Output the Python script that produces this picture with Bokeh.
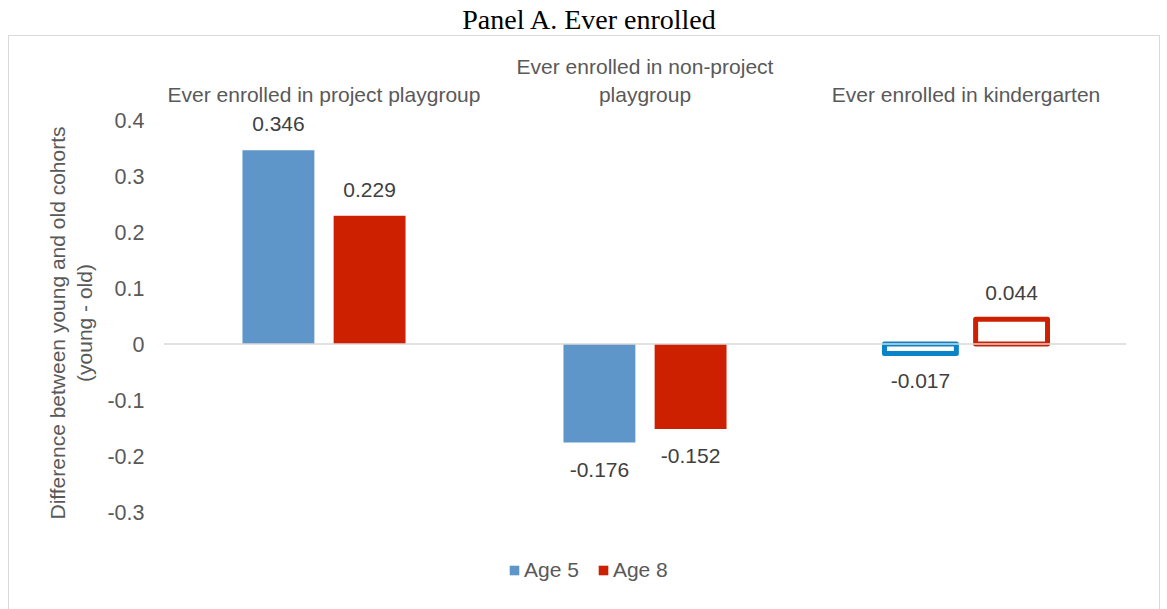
from bokeh.plotting import figure
from bokeh.models import (ColumnDataSource, FactorRange, Range1d, FixedTicker, Span,
                          Legend, LegendItem, Div)
from bokeh.transform import dodge
from bokeh.layouts import column
from bokeh.core.properties import value
from bokeh.embed import file_html
from bokeh.resources import INLINE

# ---- data ----
categories = ["Ever enrolled in project playgroup",
              "Ever enrolled in non-project\nplaygroup",
              "Ever enrolled in kindergarten"]
age5 = [0.346, -0.176, -0.017]
age8 = [0.229, -0.152, 0.044]
series_names = ["Age 5", "Age 8"]
tick_values = [-0.3, -0.2, -0.1, 0.0, 0.1, 0.2, 0.3, 0.4]
tick_labels = ["-0.3", "-0.2", "-0.1", "0", "0.1", "0.2", "0.3", "0.4"]
title_text = "Panel A. Ever enrolled"
y_title = "Difference between young and old cohorts\n(young - old)"

BLUE = "#5F96CA"
BLUE_OUT = "#0A84C8"
RED = "#CC2000"
TXT = "#595959"
LBL = "#404040"
FONT = "Liberation Sans"

cat_keys = ["cat%d" % i for i in range(len(categories))]

def make_src(idx):
    return ColumnDataSource(dict(
        x=[cat_keys[i] for i in idx],
        a5=[age5[i] for i in idx],
        a8=[age8[i] for i in idx],
    ))

filled = make_src([0, 1])
hollow = make_src([2])

zero_px = 343.5
px_per_unit = 560.0
frame_top, frame_bot = 45.0, 600.0
y_end = (zero_px - frame_top) / px_per_unit
y_start = (zero_px - frame_bot) / px_per_unit

p = figure(width=1152, height=580, output_backend="svg", toolbar_location=None,
           x_range=FactorRange(*cat_keys, range_padding=0.0),
           y_range=Range1d(y_start, y_end),
           min_border_left=154, min_border_right=35, min_border_top=9, min_border_bottom=16,
           outline_line_color=None, background_fill_color="white", border_fill_color="white",
           styles={"border": "1px solid #d9d9d9", "box-sizing": "border-box"})
p.x_range.factor_padding = 0
p.xaxis.visible = False
p.xgrid.visible = False
p.ygrid.visible = False

yax = p.yaxis[0]
yax.ticker = FixedTicker(ticks=tick_values)
yax.major_label_overrides = {v: l for v, l in zip(tick_values, tick_labels)}
yax.axis_line_color = None
yax.major_tick_line_color = None
yax.minor_tick_line_color = None
yax.major_label_text_font = FONT
yax.major_label_text_font_size = "21.5px"
yax.major_label_text_color = TXT
yax.major_label_standoff = 13
yax.axis_label = y_title
yax.axis_label_text_font = FONT
yax.axis_label_text_font_size = "21px"
yax.axis_label_text_font_style = "normal"
yax.axis_label_text_color = TXT
yax.axis_label_standoff = 8

p.add_layout(Span(location=0, dimension="width", line_color="#d9d9d9", line_width=1.5))

off, w = 0.142, 0.224
r5 = p.vbar(x=dodge("x", -off, range=p.x_range), top="a5", bottom=0, width=w, source=filled,
            fill_color=BLUE, line_color=None)
r8 = p.vbar(x=dodge("x", off, range=p.x_range), top="a8", bottom=0, width=w, source=filled,
            fill_color=RED, line_color=None)
p.vbar(x=dodge("x", -off, range=p.x_range), top="a5", bottom=0, width=w, source=hollow,
       fill_color="white", line_color=BLUE_OUT, line_width=5, line_join="round")
p.vbar(x=dodge("x", off, range=p.x_range), top="a8", bottom=0, width=w, source=hollow,
       fill_color="white", line_color=RED, line_width=5, line_join="round")

# data labels
for vals, o in ((age5, -off), (age8, off)):
    lab = ColumnDataSource(dict(
        x=cat_keys, y=vals, t=["%.3f" % v for v in vals],
        yo=[-26 if v >= 0 else 27 for v in vals]))
    p.text(x=dodge("x", o, range=p.x_range), y="y", text="t", y_offset="yo", source=lab,
           text_align="center", text_baseline="middle", text_font=value(FONT),
           text_font_size="21px", text_color=LBL)

# category labels at top
cl = ColumnDataSource(dict(x=cat_keys, t=categories))
p.text(x="x", y=(zero_px - 105.5) / px_per_unit, text="t", source=cl,
       text_align="center", text_baseline="bottom", text_font=value(FONT),
       text_font_size="21px", text_color=TXT, text_line_height=1.2)

legend = Legend(items=[LegendItem(label=series_names[0], renderers=[r5]),
                       LegendItem(label=series_names[1], renderers=[r8])],
                location=(345, 18), orientation="horizontal",
                label_text_font=FONT, label_text_font_size="21px", label_text_color=TXT,
                glyph_width=12, glyph_height=12, label_standoff=4, spacing=18,
                label_height=22, padding=0, margin=0,
                border_line_color=None, background_fill_alpha=0)
p.add_layout(legend)

title = Div(text=title_text, width=1152, height=25,
            styles={"font-family": "Liberation Serif", "font-size": "28px", "color": "#000000",
                    "text-align": "center", "width": "1152px", "line-height": "30px"})

layout = column(title, p, spacing=0, margin=(0, 0, 0, 8))
open("out.html", "w").write(file_html(layout, INLINE))
